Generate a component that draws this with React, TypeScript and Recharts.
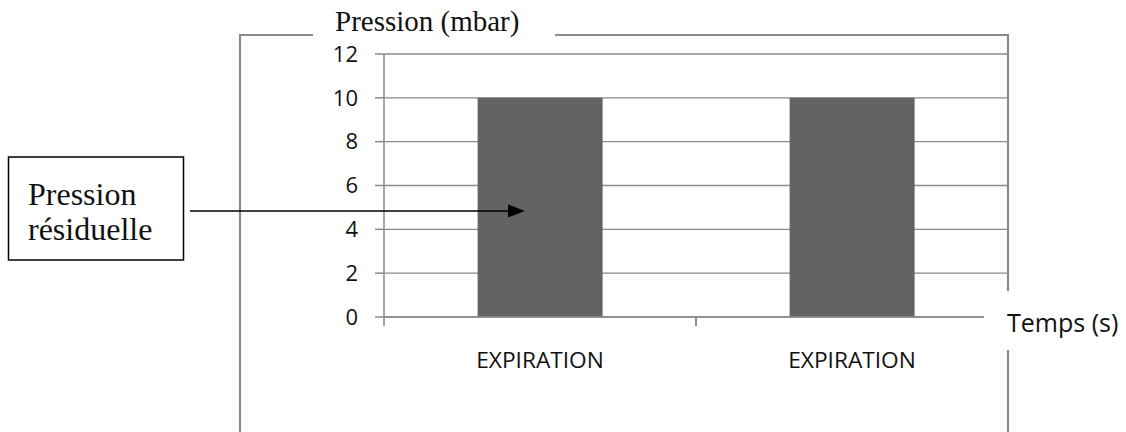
import React from 'react';
import { BarChart, Bar, XAxis, YAxis, CartesianGrid } from 'recharts';

const categories = ['EXPIRATION', 'EXPIRATION'];
const pressure = [10, 10];
const yTicks = [0, 2, 4, 6, 8, 10, 12];

const data = categories.map((name, i) => ({ id: i, name, pressure: pressure[i] }));

const W = 1126;
const H = 432;
const PLOT_LEFT = 384;
const PLOT_RIGHT = 1008;
const PLOT_TOP = 54;
const PLOT_BOTTOM = 317;
const HALF_BAND = (PLOT_RIGHT - PLOT_LEFT) / categories.length / 2;

const AXIS = '#8a8a8a';
const SANS = '"Open Sans", sans-serif';
const SERIF = '"Liberation Serif", "Times New Roman", serif';

// category label plus the boundary tick marks on either side of the band
const CategoryTick = ({ x, y, payload }: any) => (
  <g>
    <line x1={x - HALF_BAND} y1={y} x2={x - HALF_BAND} y2={y + 9} stroke={AXIS} strokeWidth={1.5} />
    <line x1={x + HALF_BAND} y1={y} x2={x + HALF_BAND} y2={y + 9} stroke={AXIS} strokeWidth={1.5} />
    <text x={x} y={y + 51} textAnchor="middle" fill="#111" fontSize={22.7} fontFamily={SANS}>
      {categories[payload.index] ?? payload.value}
    </text>
  </g>
);

export default function App() {
  return (
    <div style={{ position: 'absolute', left: 0, top: 0, width: W, height: H, background: '#fff' }}>
      <BarChart
        width={W}
        height={H}
        data={data}
        barCategoryGap="30%"
        margin={{ top: PLOT_TOP, right: W - PLOT_RIGHT, left: PLOT_LEFT - 80, bottom: H - PLOT_BOTTOM - 30 }}
      >
        <CartesianGrid vertical={false} stroke={AXIS} strokeWidth={1.4} />
        <XAxis
          dataKey="id"
          height={30}
          tickSize={0}
          tickMargin={0}
          tickLine={false}
          axisLine={{ stroke: AXIS, strokeWidth: 1.5 }}
          tick={<CategoryTick />}
          interval={0}
        />
        <YAxis
          width={80}
          domain={[0, 12]}
          ticks={yTicks}
          interval={0}
          tickSize={9}
          tickMargin={17}
          tickLine={{ stroke: AXIS, strokeWidth: 1.5 }}
          axisLine={{ stroke: AXIS, strokeWidth: 1.5 }}
          tick={{ fill: '#111', fontSize: 22, fontFamily: SANS }}
        />
        <Bar dataKey="pressure" fill="#636363" isAnimationActive={false} />
      </BarChart>

      <svg
        width={W}
        height={H}
        style={{ position: 'absolute', left: 0, top: 0, pointerEvents: 'none' }}
      >
        {/* white backing behind the x axis title */}
        <rect x={984} y={292} width={142} height={56} fill="#fff" />

        {/* outer frame, broken by the two axis titles */}
        <g stroke={AXIS} strokeWidth={2.2} fill="none">
          <line x1={240} y1={35} x2={313} y2={35} />
          <line x1={555} y1={35} x2={PLOT_RIGHT} y2={35} />
          <line x1={240} y1={34} x2={240} y2={H} />
          <line x1={PLOT_RIGHT} y1={34} x2={PLOT_RIGHT} y2={291} />
          <line x1={PLOT_RIGHT} y1={350} x2={PLOT_RIGHT} y2={H} />
        </g>

        <text x={335} y={31} fontSize={29} fontFamily={SERIF} fill="#111">
          Pression (mbar)
        </text>
        <text x={1007} y={332} fontSize={25} fontFamily={SANS} fill="#111">
          Temps (s)
        </text>

        {/* callout box with arrow */}
        <rect x={8.5} y={157} width={175} height={103} fill="#fff" stroke="#000" strokeWidth={1.5} />
        <text fontSize={32} fontFamily={SERIF} fill="#111">
          <tspan x={28} y={205}>Pression</tspan>
          <tspan x={28} y={240}>résiduelle</tspan>
        </text>
        <line x1={190} y1={211} x2={510} y2={211} stroke="#000" strokeWidth={1.5} />
        <polygon points="508,204.5 525,211 508,217.5" fill="#000" />
      </svg>
    </div>
  );
}
